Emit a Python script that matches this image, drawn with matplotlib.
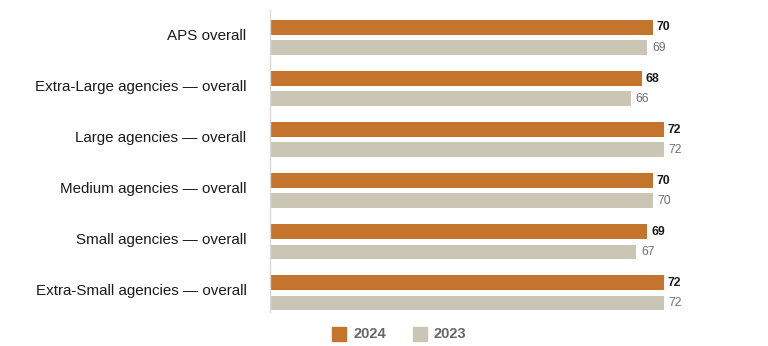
import matplotlib
matplotlib.use("Agg")
import matplotlib.pyplot as plt
import matplotlib.transforms as mtransforms
import numpy as np
from matplotlib.patches import Rectangle

plt.rcParams['font.family'] = ['Liberation Sans', 'DejaVu Sans']

categories = [
    "APS overall",
    "Extra-Large agencies \u2014 overall",
    "Large agencies \u2014 overall",
    "Medium agencies \u2014 overall",
    "Small agencies \u2014 overall",
    "Extra-Small agencies \u2014 overall",
]
values_2024 = [70, 68, 72, 70, 69, 72]
values_2023 = [69, 66, 72, 70, 67, 72]
series_names = ["2024", "2023"]

color_2024 = "#C4742C"
color_2023 = "#CBC5B5"

fig = plt.figure(figsize=(7.68, 3.46), dpi=100)
ax = fig.add_axes([270 / 768, 34 / 346, (762 - 270) / 768, (336 - 34) / 346])

y = np.arange(len(categories))
offset = 0.197
height = 0.28

ax.barh(y - offset, values_2024, height=height, color=color_2024)
ax.barh(y + offset, values_2023, height=height, color=color_2023)

for yi, v in zip(y, values_2024):
    ax.text(v + 0.75, yi - offset, f"{v}", va="center", ha="left",
            fontsize=8.8, fontweight="bold", color="#1a1a1a")
for yi, v in zip(y, values_2023):
    ax.text(v + 0.9, yi + offset, f"{v}", va="center", ha="left",
            fontsize=8.8, color="#707070")

ax.set_xlim(0, 90)
ax.set_ylim(5.38, -0.54)
ax.set_yticks(y)
ax.set_yticklabels(categories, fontsize=10.9, color="#1a1a1a")
ax.tick_params(axis="y", length=0, pad=17)
shift = mtransforms.ScaledTranslation(0, 3 / 100, fig.dpi_scale_trans)
for lbl in ax.get_yticklabels():
    lbl.set_transform(lbl.get_transform() + shift)
ax.set_xticks([])

for side in ["top", "right", "bottom"]:
    ax.spines[side].set_visible(False)
ax.spines["left"].set_color("#d9d9d9")
ax.spines["left"].set_linewidth(1.0)

# legend drawn as figure-level squares and labels
legend_items = [(332, color_2024, series_names[0]), (413, color_2023, series_names[1])]
for x0, col, name in legend_items:
    fig.patches.append(Rectangle((x0 / 768, (346 - 341) / 346), 14 / 768, 14 / 346,
                                 transform=fig.transFigure, color=col))
    fig.text((x0 + 21) / 768, (346 - 334) / 346, name, va="center", ha="left",
             fontsize=10.5, fontweight="bold", color="#666666")

fig.savefig("out.png", dpi=100)
